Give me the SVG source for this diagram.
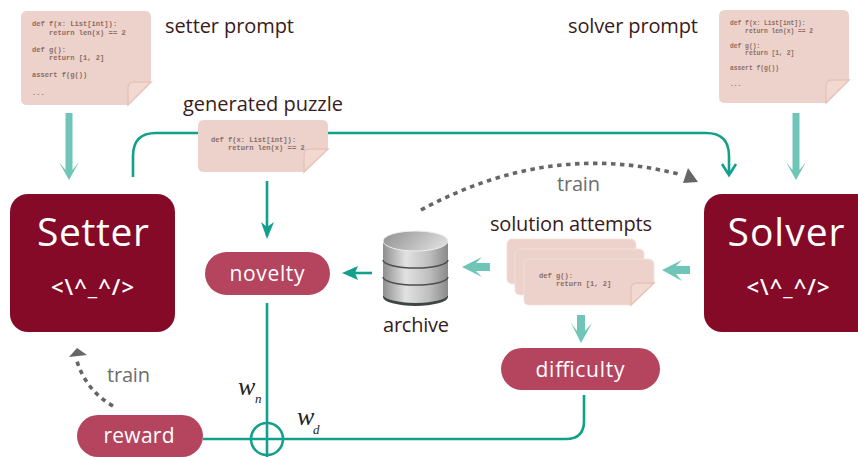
<svg xmlns="http://www.w3.org/2000/svg" width="858" height="457" viewBox="0 0 858 457">
<style>
.lbl{font-family:"Open Sans","Liberation Sans",sans-serif;font-size:20px;fill:#3a1a1a}
.code{font-family:"Liberation Mono",monospace;font-size:7.1px;font-weight:bold;fill:#7d5a55;opacity:.85}
.small{font-size:6.3px}
.note{fill:#ecd2ca}
.fold{fill:#f1d9d1;stroke:#e6c3b8;stroke-width:1.5}
.big{fill:#840a27}
.pill{fill:#b5445f}
.t1{font-family:"Open Sans","Liberation Sans",sans-serif;fill:#fff;text-anchor:middle}
.mono{font-family:"Open Sans","Liberation Sans",sans-serif;fill:#fff;text-anchor:middle;font-size:22px;font-weight:600}
.train{font-family:"Open Sans","Liberation Sans",sans-serif;font-size:20px;fill:#6d6d6d}
.tl{fill:none;stroke:#12a08d;stroke-width:2.6}
.fat{fill:#6fc5b8}
.dot{fill:none;stroke:#666;stroke-width:3.6;stroke-dasharray:4.5 4.5}
.w{font-family:"Liberation Serif",serif;font-style:italic;fill:#222}
</style>
<defs>
<linearGradient id="cyl" x1="0" x2="1" y1="0" y2="0"><stop offset="0" stop-color="#8e8e8e"/><stop offset="0.35" stop-color="#e2e2e2"/><stop offset="0.7" stop-color="#c0c0c0"/><stop offset="1" stop-color="#8a8a8a"/></linearGradient>
<linearGradient id="top" x1="0" x2="1" y1="0" y2="0.3"><stop offset="0" stop-color="#8f8f8f"/><stop offset="1" stop-color="#d8d8d8"/></linearGradient>
</defs>
<g id="connectors">
<path class="tl" d="M133 177V156Q133 133 156 133H706Q729 133 729 156V174"/>
<path class="tl" d="M722 164L729 175L736 164"/>
<path class="tl" d="M267 181V236"/>
<path d="M261 222L267 239L274 222L267 227Z" fill="#12a08d"/>
<path class="tl" d="M372 273H346"/>
<path d="M342 273L358 266L355 273L358 280Z" fill="#12a08d"/>
<path class="tl" d="M267 303V457"/>
<path class="tl" d="M203 439H566Q584 439 584 421V395"/>
<circle cx="267" cy="439" r="16" fill="none" stroke="#12a08d" stroke-width="2.6"/>
<path class="fat" d="M65.500 113H72.500V170L79 162L69 180L59 162L65.500 170Z"/>
<path class="fat" d="M792.500 113H799.500V170L806 162L796 180L786 162L792.500 170Z"/>
<path class="fat" d="M690 266V274H676L682 281L662 270L682 260L676 266Z"/>
<path class="fat" d="M490 263V271H476L482 277L462 267L482 257L476 263Z"/>
<path class="fat" d="M577 315H585V331L592 323L581 343L571 323L577 331Z"/>
<path class="dot" d="M421 210Q550 140 682 175"/>
<path d="M688 168L698 182L683 183Z" fill="#666"/>
<path class="dot" d="M113 406Q85 390 76 358"/>
<path d="M77 348L87 355L69 357Z" fill="#666"/>
</g>
<g id="setter-prompt">
<path class="note" d="M27 11H145Q151 11 151 17V82L128 105H27Q21 105 21 99V17Q21 11 27 11Z"/>
<path class="fold" d="M128 105V88Q128 82 134 82H151Z"/>
<text class="code" xml:space="preserve"><tspan x="32" y="26">def f(x: List[int]):</tspan><tspan x="32" y="35">    return len(x) == 2</tspan><tspan x="32" y="52">def g():</tspan><tspan x="32" y="60">    return [1, 2]</tspan><tspan x="32" y="77">assert f(g())</tspan><tspan x="32" y="95">...</tspan></text>
<text class="lbl" x="165" y="33" textLength="129">setter prompt</text>
</g>
<g id="solver-prompt">
<path class="note" d="M725 10H843Q849 10 849 16V80L826 103H725Q719 103 719 97V16Q719 10 725 10Z"/>
<path class="fold" d="M826 103V86Q826 80 832 80H849Z"/>
<text class="code small" xml:space="preserve"><tspan x="730" y="25">def f(x: List[int]):</tspan><tspan x="730" y="33">    return len(x) == 2</tspan><tspan x="730" y="48">def g():</tspan><tspan x="730" y="55">    return [1, 2]</tspan><tspan x="730" y="70">assert f(g())</tspan><tspan x="730" y="86">...</tspan></text>
<text class="lbl" x="568" y="33" textLength="130">solver prompt</text>
</g>
<g id="generated-puzzle">
<path class="note" d="M204 120H322Q328 120 328 126V148L304 172H204Q198 172 198 166V126Q198 120 204 120Z"/>
<path class="fold" d="M304 172V155Q304 149 310 149H328Z"/>
<text class="code" xml:space="preserve"><tspan x="211" y="142">def f(x: List[int]):</tspan><tspan x="211" y="150">    return len(x) == 2</tspan></text>
<text class="lbl" x="183" y="111" textLength="160">generated puzzle</text>
</g>
<g id="setter">
<rect class="big" x="10" y="194" width="165" height="138" rx="18"/>
<text class="t1" x="93" y="246" font-size="39" textLength="112">Setter</text>
<text class="mono" x="92.500" y="295" textLength="83">&lt;\^_^/&gt;</text>
</g>
<g id="solver">
<rect class="big" x="704" y="194" width="170" height="138" rx="18"/>
<text class="t1" x="786" y="246" font-size="39" textLength="117">Solver</text>
<text class="mono" x="788" y="295" textLength="83">&lt;\^_^/&gt;</text>
</g>
<g id="novelty">
<rect class="pill" x="205" y="252" width="125" height="43" rx="21.500"/>
<text class="t1" x="267" y="281" font-size="21" textLength="75">novelty</text>
</g>
<g id="difficulty">
<rect class="pill" x="501" y="348" width="159" height="42" rx="21"/>
<text class="t1" x="580" y="377" font-size="21" textLength="89">difficulty</text>
</g>
<g id="reward">
<rect class="pill" x="77" y="415" width="126" height="42" rx="21"/>
<text class="t1" x="139" y="443" font-size="21" textLength="71">reward</text>
</g>
<g id="archive">
<path d="M383 241V294A32.500 9 0 0 0 448 294V241Z" fill="url(#cyl)"/>
<path d="M383 294A32.500 9 0 0 0 448 294V297A32.500 9 0 0 1 383 297Z" fill="#3f4444"/>
<path d="M383 260A32.500 8 0 0 0 448 260M383 277A32.500 8 0 0 0 448 277" fill="none" stroke="#4b4f4f" stroke-width="1.500"/>
<ellipse cx="415.500" cy="241" rx="32.500" ry="10" fill="url(#top)" stroke="#eee" stroke-width="1"/>
<text class="lbl" x="383" y="332" textLength="66">archive</text>
</g>
<g id="solution-attempts">
<rect class="note" x="507" y="239" width="129" height="45" rx="5" style="stroke:#f3e2dc;stroke-width:.8"/>
<rect class="note" x="515" y="249" width="129" height="46" rx="5" style="stroke:#f3e2dc;stroke-width:.8"/>
<path class="note" d="M529 259H648Q654 259 654 265V283L631 305H529Q524 305 524 300V264Q524 259 529 259Z" style="stroke:#f3e2dc;stroke-width:.8"/>
<path class="fold" d="M631 305V289Q631 283 637 283H654Z"/>
<text class="code" xml:space="preserve"><tspan x="539" y="278">def g():</tspan><tspan x="539" y="286">    return [1, 2]</tspan></text>
<text class="lbl" x="490" y="231" textLength="162">solution attempts</text>
</g>
<g id="labels">
<text class="train" x="557" y="191" textLength="43">train</text>
<text class="train" x="107" y="382" textLength="43">train</text>
<text class="w" x="238" y="395" font-size="26">w</text>
<text class="w" x="255" y="403" font-size="13">n</text>
<text class="w" x="297" y="425" font-size="26">w</text>
<text class="w" x="313" y="434" font-size="13">d</text>
</g>
</svg>
